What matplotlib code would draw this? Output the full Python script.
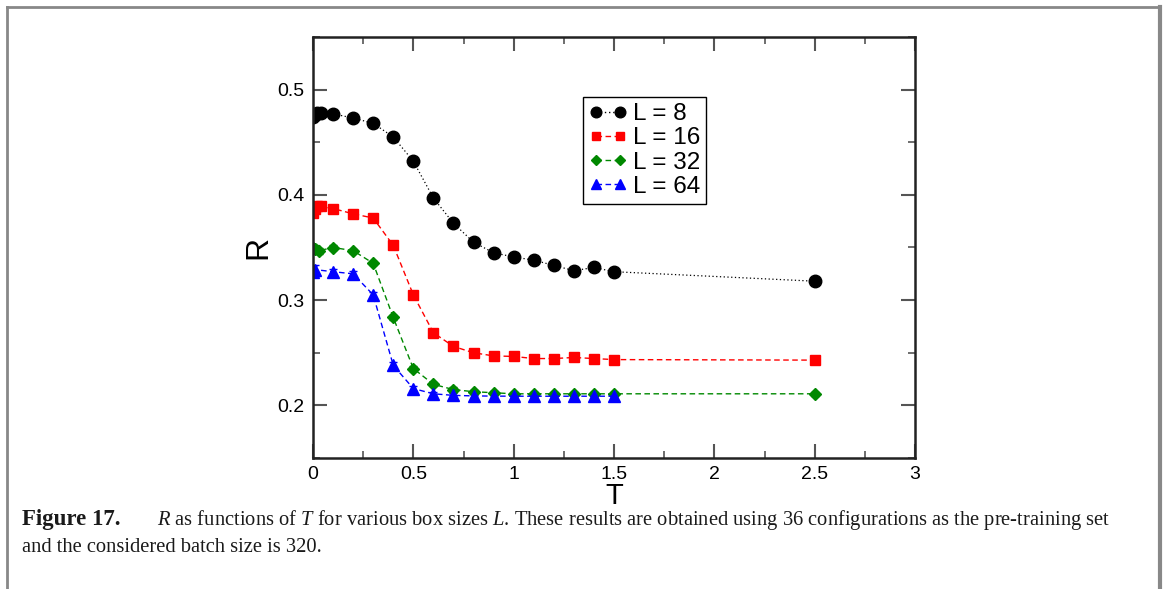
import matplotlib
matplotlib.use("Agg")
import matplotlib.pyplot as plt
from matplotlib.ticker import MultipleLocator
from matplotlib.lines import Line2D

# data
T8 = [0.0, 0.01, 0.02, 0.04, 0.1, 0.2, 0.3, 0.4, 0.5, 0.6, 0.7, 0.8, 0.9, 1.0, 1.1, 1.2, 1.3, 1.4, 1.5, 2.5]
R8 = [0.474, 0.476, 0.478, 0.478, 0.477, 0.473, 0.468, 0.455, 0.432, 0.397, 0.373, 0.355, 0.345,
      0.341, 0.338, 0.333, 0.328, 0.331, 0.327, 0.318]
E8 = [0.003, 0.002, 0.002, 0.002, 0.002, 0.002, 0.002, 0.002, 0.002, 0.002, 0.002, 0.002, 0.002,
      0.002, 0.002, 0.002, 0.002, 0.002, 0.002, 0.002]

T16 = [0.0, 0.01, 0.02, 0.04, 0.1, 0.2, 0.3, 0.4, 0.5, 0.6, 0.7, 0.8, 0.9, 1.0, 1.1, 1.2, 1.3, 1.4, 1.5, 2.5]
R16 = [0.383, 0.387, 0.389, 0.389, 0.387, 0.382, 0.378, 0.352, 0.305, 0.269, 0.256, 0.250, 0.247,
       0.2465, 0.2445, 0.2445, 0.2455, 0.2445, 0.2435, 0.243]
E16 = [0.004, 0.003, 0.003, 0.003, 0.003, 0.003, 0.003, 0.003, 0.003, 0.003, 0.003, 0.003, 0.003,
       0.003, 0.003, 0.003, 0.003, 0.003, 0.003, 0.003]

T32 = [0.0, 0.01, 0.03, 0.1, 0.2, 0.3, 0.4, 0.5, 0.6, 0.7, 0.8, 0.9, 1.0, 1.1, 1.2, 1.3, 1.4, 1.5, 2.5]
R32 = [0.350, 0.349, 0.347, 0.350, 0.347, 0.335, 0.2835, 0.235, 0.220, 0.215, 0.213, 0.212,
       0.211, 0.211, 0.211, 0.211, 0.211, 0.211, 0.211]
E32 = [0.003, 0.003, 0.003, 0.002, 0.002, 0.002, 0.002, 0.002, 0.002, 0.002, 0.002, 0.002,
       0.002, 0.002, 0.002, 0.002, 0.002, 0.002, 0.002]

T64 = [0.0, 0.01, 0.1, 0.2, 0.3, 0.4, 0.5, 0.6, 0.7, 0.8, 0.9, 1.0, 1.1, 1.2, 1.3, 1.4, 1.5]
R64 = [0.327, 0.329, 0.327, 0.325, 0.305, 0.238, 0.216, 0.211, 0.2095, 0.209, 0.2088, 0.2087,
       0.2087, 0.2087, 0.2087, 0.2087, 0.2087]
E64 = [0.005, 0.004, 0.003, 0.003, 0.003, 0.003, 0.002, 0.002, 0.002, 0.002, 0.002, 0.002,
       0.002, 0.002, 0.002, 0.002, 0.002]

labels = ["L = 8", "L = 16", "L = 32", "L = 64"]
colors = ["black", "#ff0000", "#008800", "#0000ff"]
markers = ["o", "s", "D", "^"]
msizes = [9, 7.5, 6, 8.5]
dotted = (0, (1, 2))
dashed = (0, (4, 2.5))
styles = [dotted, dashed, dashed, dashed]

sans = ["Liberation Sans", "DejaVu Sans"]
serif = ["Liberation Serif", "DejaVu Serif"]
plt.rcParams["mathtext.fontset"] = "custom"
plt.rcParams["mathtext.rm"] = "Liberation Serif"
plt.rcParams["mathtext.it"] = "Liberation Serif:italic"
plt.rcParams["mathtext.bf"] = "Liberation Serif:bold"

fig = plt.figure(figsize=(11.65, 5.89), dpi=100)
ax = fig.add_axes([313/1165, 1-458/589, 602/1165, 421/589])

# page frame (left, top, right)
fc = "#888888"
fig.add_artist(Line2D([7/1165, 7/1165], [0, 1-7/589], transform=fig.transFigure, color=fc, lw=2))
fig.add_artist(Line2D([7/1165, 1160/1165], [1-7/589, 1-7/589], transform=fig.transFigure, color=fc, lw=2))
fig.add_artist(Line2D([1160/1165, 1160/1165], [0, 1-7/589], transform=fig.transFigure, color=fc, lw=3))

series = [(T8, R8, E8), (T16, R16, E16), (T32, R32, E32), (T64, R64, E64)]
handles = []
for (t, r, e), c, m, ms, ls, lab in zip(series, colors, markers, msizes, styles, labels):
    ax.errorbar(t, r, yerr=e, color=c, marker=m, ms=ms, ls=ls, lw=1 if ls is dashed else 0.9,
                capsize=3, elinewidth=1)
    handles.append(Line2D([], [], color=c, marker=m, ms=ms*0.85, ls=ls, lw=1, label=lab))

ax.set_xlim(0, 3)
ax.set_ylim(0.15, 0.55)
ax.xaxis.set_minor_locator(MultipleLocator(0.25))
ax.yaxis.set_minor_locator(MultipleLocator(0.05))
ax.set_xticks([0, 0.5, 1, 1.5, 2, 2.5, 3])
ax.set_xticklabels(["0", "0.5", "1", "1.5", "2", "2.5", "3"])
ax.set_yticks([0.2, 0.3, 0.4, 0.5])
ax.set_yticklabels(["0.2", "0.3", "0.4", "0.5"])
ax.tick_params(which="both", direction="in", top=True, right=True, color="#555555")
ax.tick_params(which="major", length=10, width=1.5, labelsize=14, pad=6)
ax.tick_params(which="minor", length=5, width=1.2)
for lab in ax.get_xticklabels() + ax.get_yticklabels():
    lab.set_family(sans)
for s in ax.spines.values():
    s.set_linewidth(1.8)
    s.set_color("#222222")

ax.set_xlabel("T", family=sans, fontsize=21, labelpad=-1)
ax.set_ylabel("R", family=sans, fontsize=23, labelpad=3)

leg = ax.legend(handles=handles, loc="upper left", bbox_to_anchor=(0.448, 0.857), numpoints=2,
                handlelength=1.6, handletextpad=0.2, borderpad=0.25, labelspacing=0.09,
                borderaxespad=0, fancybox=False, framealpha=1, edgecolor="black",
                prop={"family": sans, "size": 17.5})
leg.get_frame().set_linewidth(1)

# caption
cap = dict(fontsize=14.8, family=serif, va="center", color="#1a1a1a")
fig.text(22/1165, 1-520/589, "Figure 17.", weight="bold", **{**cap, "fontsize": 16.5})
fig.text(157/1165, 1-520/589,
         r"$R$ as functions of $T$ for various box sizes $L$. These results are obtained using 36 "
         "configurations as the pre-training set", **cap)
fig.text(22/1165, 1-547/589, "and the considered batch size is 320.", **cap)

fig.savefig("out.png", dpi=100)
